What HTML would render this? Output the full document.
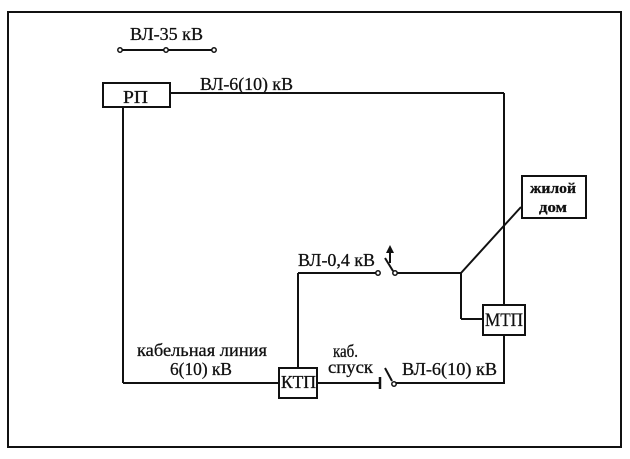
<!DOCTYPE html>
<html><head><meta charset="utf-8"><style>
html,body{margin:0;padding:0;background:#fff;}
svg{display:block;}
text{font-family:"Liberation Serif","DejaVu Serif",serif;fill:#111;stroke:#111;stroke-width:0.3;}
</style></head><body>
<svg width="630" height="459" viewBox="0 0 630 459" xmlns="http://www.w3.org/2000/svg">
<g stroke="#111" stroke-width="2" fill="none">
<rect x="8" y="12" width="613" height="435"/>
<line x1="120" y1="50" x2="214" y2="50"/>
<line x1="170" y1="93" x2="504" y2="93"/>
<line x1="504" y1="93" x2="504" y2="305"/>
<line x1="504" y1="335" x2="504" y2="384"/>
<rect x="103" y="83" width="67" height="24"/>
<line x1="123" y1="107" x2="123" y2="383"/>
<line x1="123" y1="383" x2="279" y2="383"/>
<rect x="279" y="368" width="38" height="30"/>
<line x1="298" y1="368" x2="298" y2="273"/>
<line x1="298" y1="273" x2="376" y2="273"/>
<line x1="385" y1="258" x2="393" y2="271"/>
<line x1="397" y1="273" x2="461" y2="273"/>
<line x1="390" y1="263" x2="390" y2="250"/>
<line x1="461" y1="273" x2="461" y2="319"/>
<line x1="461" y1="319" x2="483" y2="319"/>
<line x1="461" y1="273" x2="521" y2="207"/>
<rect x="522" y="176" width="64" height="42"/>
<rect x="483" y="305" width="42" height="30"/>
<line x1="317" y1="383" x2="380" y2="383"/>
<line x1="380" y1="377" x2="380" y2="389" stroke-width="2.5"/>
<line x1="385" y1="368" x2="392" y2="381"/>
<line x1="396" y1="383" x2="504" y2="383"/>
</g>
<g stroke="#111" stroke-width="1.5" fill="#fff">
<circle cx="120" cy="50" r="2.2"/>
<circle cx="166" cy="50" r="2.2"/>
<circle cx="214" cy="50" r="2.2"/>
<circle cx="378" cy="273" r="2.2"/>
<circle cx="395" cy="273" r="2.2"/>
<circle cx="394" cy="384" r="2.2"/>
</g>
<polygon points="390,245 386,253 394,253" fill="#111"/>
<text x="130" y="40" font-size="18" textLength="73" lengthAdjust="spacingAndGlyphs">ВЛ-35 кВ</text>
<text x="200" y="90" font-size="18" textLength="93" lengthAdjust="spacingAndGlyphs">ВЛ-6(10) кВ</text>
<text x="123" y="103" font-size="18" textLength="25" lengthAdjust="spacingAndGlyphs">РП</text>
<text x="298" y="266" font-size="18" textLength="77" lengthAdjust="spacingAndGlyphs">ВЛ-0,4 кВ</text>
<text x="485" y="326" font-size="19" textLength="38" lengthAdjust="spacingAndGlyphs">МТП</text>
<text x="281" y="388" font-size="18" textLength="35" lengthAdjust="spacingAndGlyphs">КТП</text>
<text x="137" y="356" font-size="18" textLength="130" lengthAdjust="spacingAndGlyphs">кабельная линия</text>
<text x="170" y="375" font-size="18" textLength="62" lengthAdjust="spacingAndGlyphs">6(10) кВ</text>
<text x="333" y="357" font-size="18" textLength="25" lengthAdjust="spacingAndGlyphs">каб.</text>
<text x="328" y="373" font-size="18" textLength="45" lengthAdjust="spacingAndGlyphs">спуск</text>
<text x="402" y="375" font-size="18" textLength="95" lengthAdjust="spacingAndGlyphs">ВЛ-6(10) кВ</text>
<text x="530" y="193" font-size="15" font-weight="bold" textLength="46" lengthAdjust="spacingAndGlyphs">жилой</text>
<text x="539" y="212" font-size="15" font-weight="bold" textLength="28" lengthAdjust="spacingAndGlyphs">дом</text>
</svg>
</body></html>
